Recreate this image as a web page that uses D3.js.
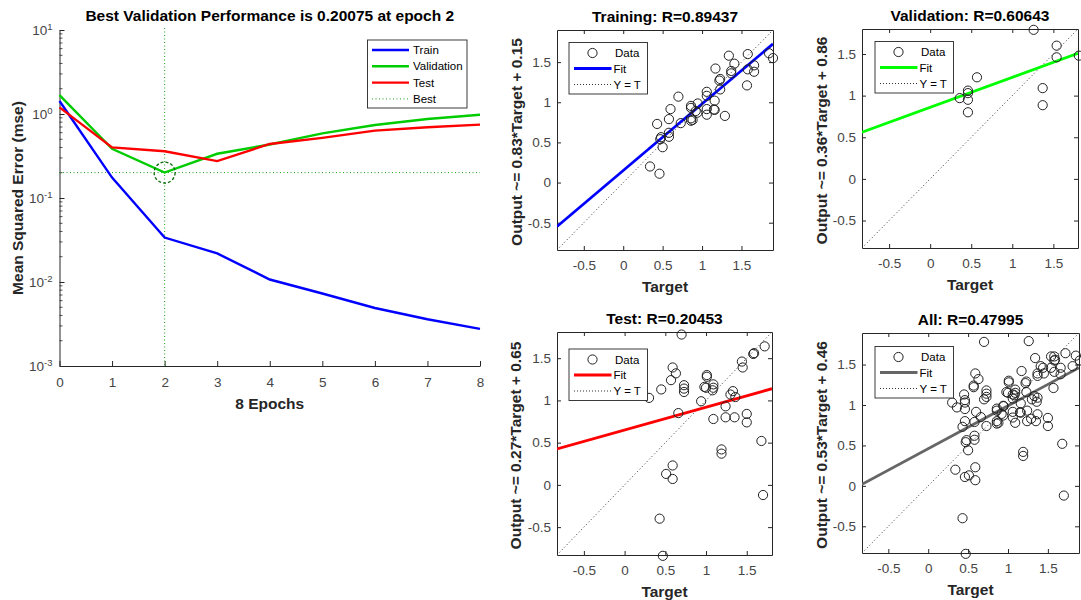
<!DOCTYPE html>
<html><head><meta charset="utf-8">
<script src="https://cdn.jsdelivr.net/npm/d3@7"></script>
<style>
body{margin:0;background:#fff}
svg{display:block}
text{font-family:"Liberation Sans",Arial,Helvetica,sans-serif}
</style>
</head><body>
<svg id="c" width="1081" height="600"></svg>
<script>
// ---------- performance data ----------
const epochs = [0, 1, 2, 3, 4, 5, 6, 7, 8];
const trainPerf = [1.43, 0.175, 0.0338, 0.0219, 0.0107, 0.0073, 0.0049, 0.0036, 0.00277];
const valPerf   = [1.68, 0.385, 0.20075, 0.336, 0.433, 0.589, 0.74, 0.873, 0.98];
const testPerf  = [1.2, 0.40, 0.36, 0.275, 0.44, 0.52, 0.634, 0.695, 0.747];
const bestEpoch = 2;
const bestValue = 0.20075;
const perfTitle = "Best Validation Performance is 0.20075 at epoch 2";
const perfXLabel = "8 Epochs";
const perfYLabel = "Mean Squared Error  (mse)";
const perfLegend = ["Train", "Validation", "Test", "Best"];
const logTickExps = [-3, -2, -1, 0, 1];

// ---------- regression data ----------
const trainT = [1.34,1.58,1.41,1.37,1.37,1.58,1.66,1.66,1.57,1.85,1.90,1.17,1.23,1.22,1.23,1.06,1.06,1.16,1.06,1.16,1.06,1.29,0.945,0.86,0.86,0.86,0.86,0.92,0.94,0.70,0.73,0.60,0.58,0.43,0.58,0.58,0.48,0.47,0.50,0.34,0.46,0.88,1.15];
const trainO = [1.58,1.60,1.48,1.39,1.36,1.41,1.46,1.38,1.21,1.61,1.55,1.42,1.29,1.27,1.16,1.13,1.08,1.02,0.915,0.905,0.845,0.83,0.985,0.955,0.93,0.80,0.77,0.89,0.87,1.07,0.74,0.915,0.79,0.73,0.62,0.57,0.565,0.54,0.44,0.20,0.11,0.78,0.91];
const valT = [1.26,1.54,1.54,1.81,1.37,1.37,0.57,0.46,0.46,0.36,0.46,0.46];
const valO = [1.79,1.60,1.46,1.48,1.09,0.885,1.22,1.06,1.03,0.97,0.95,0.80];
const testT = [0.70,1.72,1.59,1.58,1.44,1.45,0.59,0.63,0.57,0.45,0.30,0.73,0.73,0.73,1.01,1.01,0.98,1.00,1.09,1.09,1.08,0.94,0.66,1.24,1.24,1.35,1.09,1.33,1.30,1.36,1.50,1.50,1.68,1.19,1.19,0.59,0.51,0.59,1.70,0.43,0.47];
const testO = [1.78,1.64,1.56,1.55,1.46,1.39,1.39,1.32,1.24,1.13,1.03,1.18,1.14,1.10,1.30,1.28,1.16,1.15,1.19,1.15,1.12,0.99,0.85,0.93,0.80,0.80,0.78,1.11,1.07,1.04,0.84,0.74,0.52,0.42,0.37,0.23,0.13,0.07,-0.12,-0.40,-0.84];
const allT = trainT.concat(valT, testT);
const allO = trainO.concat(valO, testO);

const regNames = ["Training", "Validation", "Test", "All"];
const regR = ["0.89437", "0.60643", "0.20453", "0.47995"];
const fitSlopes = [0.83, 0.36, 0.27, 0.53];
const fitIntercepts = [0.15, 0.86, 0.65, 0.46];
const regTicks = [-0.5, 0, 0.5, 1, 1.5];
const regLegend = ["Data", "Fit", "Y = T"];

// ---------- drawing ----------
const svg = d3.select("#c");
const AX = "#262626", TXT = "#454545";
const BIG = "15.5px";

// Performance plot
(function(){
  const B = {x0:59.5, x1:480, y0:30, y1:366};
  const x = d3.scaleLinear().domain([0, 8]).range([B.x0, B.x1]);
  const y = d3.scaleLog().domain([1e-3, 1e1]).range([B.y1, B.y0]);
  const g = svg.append("g");

  const xa = g.append("g").attr("transform", `translate(0,${B.y1})`)
    .call(d3.axisBottom(x).tickValues(epochs).tickFormat(d3.format("d")).tickSize(-5).tickSizeOuter(0).tickPadding(11));
  const ya = g.append("g").attr("transform", `translate(${B.x0},0)`)
    .call(d3.axisLeft(y).tickValues(logTickExps.map(e => Math.pow(10, e))).tickSize(-5).tickSizeOuter(0).tickPadding(7));
  [xa, ya].forEach(a => {
    a.select(".domain").attr("stroke", AX).attr("stroke-width", 1);
    a.selectAll(".tick line").attr("stroke", AX);
    a.selectAll("text").attr("fill", TXT).style("font-size", "13.5px");
  });
  ya.selectAll(".tick text").each(function(d){
    const t = d3.select(this); const e = Math.round(Math.log10(d));
    t.text(null).attr("dy", "0.35em");
    t.append("tspan").text("10");
    t.append("tspan").attr("dy", "-0.55em").style("font-size", "9.5px").text(String(e));
  });
  const minors = [];
  for (let e = -3; e < 1; e++) for (let k = 2; k <= 9; k++) minors.push(k * Math.pow(10, e));
  g.append("g").selectAll("line").data(minors).join("line")
    .attr("x1", B.x0).attr("x2", B.x0 + 3)
    .attr("y1", d => y(d)).attr("y2", d => y(d))
    .attr("stroke", AX).attr("stroke-width", 0.8);

  g.append("line").attr("x1", x(bestEpoch)).attr("x2", x(bestEpoch)).attr("y1", B.y0 - 2).attr("y2", B.y1)
    .attr("stroke", "#1aa01a").attr("stroke-width", 1).attr("stroke-dasharray", "1,2.5");
  g.append("line").attr("x1", x(0)).attr("x2", x(8)).attr("y1", y(bestValue)).attr("y2", y(bestValue))
    .attr("stroke", "#1aa01a").attr("stroke-width", 1).attr("stroke-dasharray", "1,2.5");

  const line = d3.line().x((d, i) => x(epochs[i])).y(d => y(d));
  [[trainPerf, "#0000ff"], [valPerf, "#00cc00"], [testPerf, "#ff0000"]].forEach(([arr, c]) => {
    g.append("path").datum(arr).attr("d", line).attr("fill", "none").attr("stroke", c).attr("stroke-width", 2.4);
  });
  g.append("circle").attr("cx", x(bestEpoch)).attr("cy", y(bestValue)).attr("r", 10.5)
    .attr("fill", "none").attr("stroke", "#0b6b0b").attr("stroke-width", 1.3).attr("stroke-dasharray", "3,2");

  g.append("text").attr("x", (B.x0 + B.x1) / 2).attr("y", 20.5).attr("text-anchor", "middle")
    .style("font-size", BIG).style("font-weight", "bold").attr("fill", "#000").text(perfTitle);
  g.append("text").attr("x", (B.x0 + B.x1) / 2).attr("y", 408.5).attr("text-anchor", "middle")
    .style("font-size", BIG).style("font-weight", "bold").attr("fill", "#262626").text(perfXLabel);
  g.append("text").attr("transform", `translate(23,${(B.y0 + B.y1) / 2}) rotate(-90)`).attr("text-anchor", "middle")
    .style("font-size", BIG).style("font-weight", "bold").attr("fill", "#262626").text(perfYLabel);

  const lg = g.append("g").attr("transform", "translate(367.5,40)");
  lg.append("rect").attr("width", 99.5).attr("height", 68).attr("fill", "#fff").attr("stroke", AX).attr("stroke-width", 0.9);
  const lc = ["#0000ff", "#00cc00", "#ff0000", "#1aa01a"];
  perfLegend.forEach((n, i) => {
    const yy = 10 + i * 16.3;
    lg.append("line").attr("x1", 4.5).attr("x2", 41.5).attr("y1", yy).attr("y2", yy)
      .attr("stroke", lc[i]).attr("stroke-width", i === 3 ? 1 : 2.4).attr("stroke-dasharray", i === 3 ? "1,2.5" : null);
    lg.append("text").attr("x", 45.5).attr("y", yy).attr("dy", "0.35em").style("font-size", "11.5px").attr("fill", "#000").text(n);
  });
})();

// Regression panels
const panels = [
  {box:{x:557, y:30, w:216, h:220}, dom:[-0.84, 1.9], T:trainT, O:trainO, color:"#0000ff", yl:517, lgOff:[12,12.5]},
  {box:{x:862, y:29, w:216, h:219}, dom:[-0.83, 1.8], T:valT, O:valO, color:"#00ff00", yl:821.5, lgOff:[13,12.5]},
  {box:{x:557, y:332, w:215, h:223}, dom:[-0.83, 1.81], T:testT, O:testO, color:"#ff0000", yl:516, lgOff:[12,17]},
  {box:{x:862, y:333, w:217, h:220}, dom:[-0.83, 1.89], T:allT, O:allO, color:"#666666", yl:821.5, lgOff:[13,13.5]}
];

panels.forEach((p, idx) => {
  const b = p.box;
  const x = d3.scaleLinear().domain(p.dom).range([b.x, b.x + b.w]);
  const y = d3.scaleLinear().domain(p.dom).range([b.y + b.h, b.y]);
  const g = svg.append("g");
  const cid = "clip" + idx;
  g.append("clipPath").attr("id", cid).append("rect").attr("x", b.x).attr("y", b.y).attr("width", b.w).attr("height", b.h);

  const fmt = d => String(d);
  const axB = g.append("g").attr("transform", `translate(0,${b.y + b.h})`)
    .call(d3.axisBottom(x).tickValues(regTicks).tickFormat(fmt).tickSize(-4).tickSizeOuter(0).tickPadding(10));
  const axT = g.append("g").attr("transform", `translate(0,${b.y})`)
    .call(d3.axisTop(x).tickValues(regTicks).tickFormat("").tickSize(-4).tickSizeOuter(0));
  const axL = g.append("g").attr("transform", `translate(${b.x},0)`)
    .call(d3.axisLeft(y).tickValues(regTicks).tickFormat(fmt).tickSize(-4).tickSizeOuter(0).tickPadding(6));
  const axR = g.append("g").attr("transform", `translate(${b.x + b.w},0)`)
    .call(d3.axisRight(y).tickValues(regTicks).tickFormat("").tickSize(-4).tickSizeOuter(0));
  [axB, axT, axL, axR].forEach(a => {
    a.select(".domain").attr("stroke", AX).attr("stroke-width", 1);
    a.selectAll(".tick line").attr("stroke", AX);
    a.selectAll("text").attr("fill", TXT).style("font-size", "13.5px");
  });

  const inner = g.append("g").attr("clip-path", `url(#${cid})`);
  inner.append("line").attr("x1", x(p.dom[0])).attr("y1", y(p.dom[0])).attr("x2", x(p.dom[1])).attr("y2", y(p.dom[1]))
    .attr("stroke", "#333").attr("stroke-width", 1).attr("stroke-dasharray", "1,2.5");
  const s = fitSlopes[idx], c0 = fitIntercepts[idx];
  inner.append("line").attr("x1", x(p.dom[0])).attr("y1", y(s * p.dom[0] + c0))
    .attr("x2", x(p.dom[1])).attr("y2", y(s * p.dom[1] + c0))
    .attr("stroke", p.color).attr("stroke-width", 2.8);
  g.append("g").selectAll("circle").data(p.T.map((t, i) => [t, p.O[i]])).join("circle")
    .attr("cx", d => x(d[0])).attr("cy", d => y(d[1])).attr("r", 4.6)
    .attr("fill", "none").attr("stroke", "#222").attr("stroke-width", 1);

  g.append("text").attr("x", b.x + b.w / 2).attr("y", b.y - 8).attr("text-anchor", "middle")
    .style("font-size", BIG).style("font-weight", "bold").attr("fill", "#000")
    .text(`${regNames[idx]}: R=${regR[idx]}`);
  g.append("text").attr("x", b.x + b.w / 2).attr("y", b.y + b.h + 41.5).attr("text-anchor", "middle")
    .style("font-size", BIG).style("font-weight", "bold").attr("fill", "#262626").text("Target");
  g.append("text").attr("transform", `translate(${p.yl + 5},${b.y + b.h / 2 + 2}) rotate(-90)`).attr("text-anchor", "middle")
    .style("font-size", BIG).style("font-weight", "bold").attr("fill", "#262626")
    .text(`Output ~= ${fitSlopes[idx]}*Target + ${fitIntercepts[idx]}`);

  const lg = g.append("g").attr("transform", `translate(${b.x + p.lgOff[0]},${b.y + p.lgOff[1]})`);
  lg.append("rect").attr("width", 78.5).attr("height", 51.5).attr("fill", "#fff").attr("stroke", AX).attr("stroke-width", 0.9);
  const rows = [10.5, 26, 42];
  lg.append("circle").attr("cx", 23.5).attr("cy", rows[0]).attr("r", 4.6).attr("fill", "none").attr("stroke", "#222").attr("stroke-width", 1);
  lg.append("line").attr("x1", 5).attr("x2", 42.5).attr("y1", rows[1]).attr("y2", rows[1]).attr("stroke", p.color).attr("stroke-width", 2.8);
  lg.append("line").attr("x1", 5).attr("x2", 42.5).attr("y1", rows[2]).attr("y2", rows[2]).attr("stroke", "#333").attr("stroke-width", 1).attr("stroke-dasharray", "1,2");
  regLegend.forEach((n, i) => {
    lg.append("text").attr("x", i === 0 ? 46 : 44.5).attr("y", rows[i]).attr("dy", "0.35em").style("font-size", "11.5px").attr("fill", "#000").text(n);
  });
});
</script>
</body></html>
